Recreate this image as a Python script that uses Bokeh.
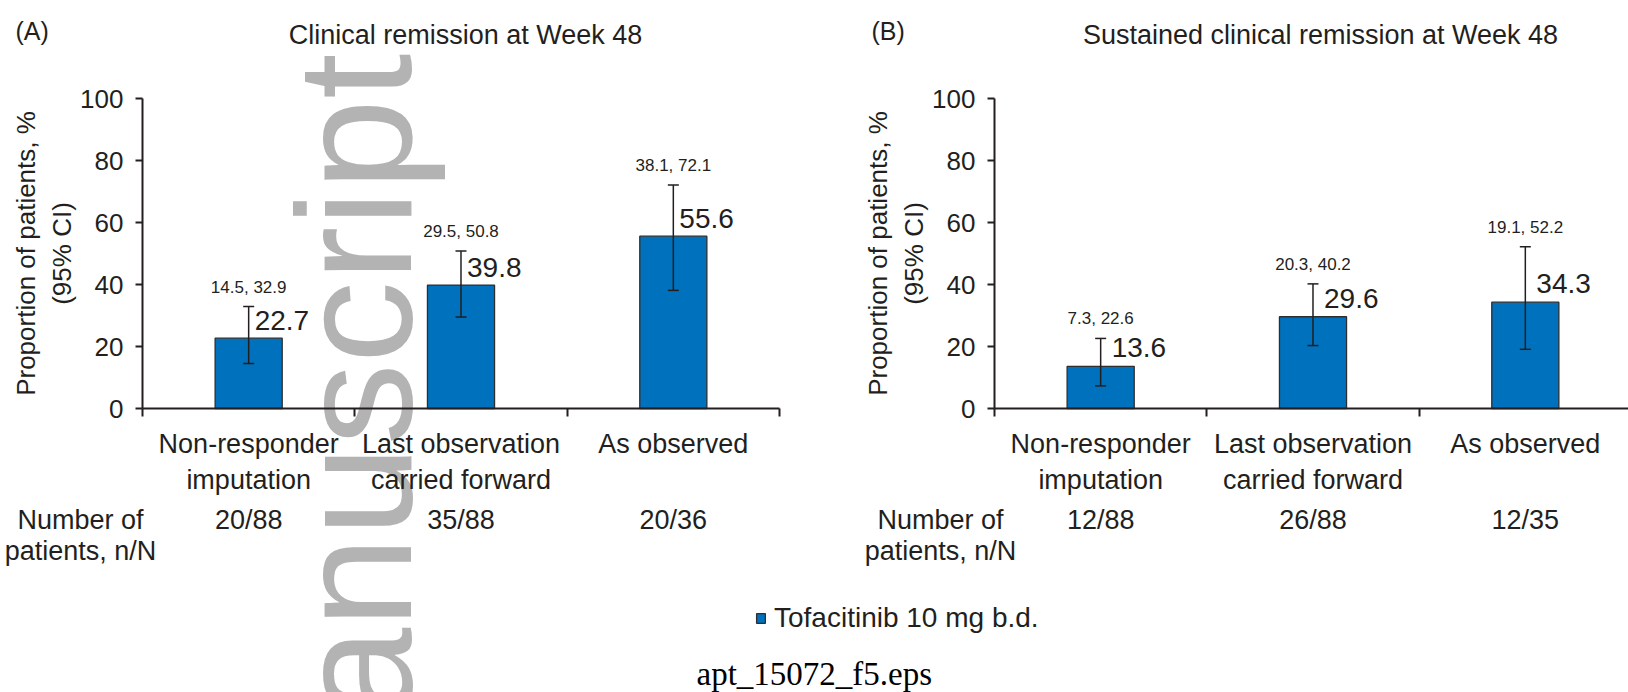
import math
from bokeh.plotting import figure
from bokeh.models import (Range1d, FixedTicker, Label, Whisker, ColumnDataSource,
                          TeeHead, Legend, LegendItem, LinearAxis)
from bokeh.core.properties import value
from bokeh.embed import file_html
from bokeh.resources import INLINE

# ---------------- data ----------------
categories = ["Non-responder\nimputation", "Last observation\ncarried forward", "As observed"]
cat_pos = [0.5, 1.5, 2.5]
y_ticks = [0, 20, 40, 60, 80, 100]

a_title = "Clinical remission at Week 48"
a_values = [22.7, 39.8, 55.6]
a_lower = [14.5, 29.5, 38.1]
a_upper = [32.9, 50.8, 72.1]
a_counts = ["20/88", "35/88", "20/36"]

b_title = "Sustained clinical remission at Week 48"
b_values = [13.6, 29.6, 34.3]
b_lower = [7.3, 20.3, 19.1]
b_upper = [22.6, 40.2, 52.2]
b_counts = ["12/88", "26/88", "12/35"]

series_name = "Tofacitinib 10 mg b.d."

# ---------------- layout / style ----------------
W, H = 1628, 692
FONT = "Liberation Sans"
INK = "#231f20"
BLUE = "#0071bc"
EDGE = "#2e2e2e"
XU = 212.33                 # px per category
YU = 3.1                    # px per percent
A_LEFT, B_LEFT = 142, 994   # page x of each panel's y axis
Y0, Y100 = 408, 98          # page y of 0 % and 100 %
B_END = (W - B_LEFT) / XU   # panel B runs to the page edge

# one frame that covers the whole page; both panels live in it (panel B on an extra x range)
p = figure(width=W, height=H,
           x_range=Range1d(-A_LEFT / XU, (W - A_LEFT) / XU),
           y_range=Range1d(-(H - Y0) / YU, 100 + Y100 / YU),
           output_backend="svg", toolbar_location=None, min_border=0)
p.extra_x_ranges = {"b": Range1d(-B_LEFT / XU, B_END)}
p.outline_line_color = None
p.grid.visible = False
p.background_fill_color = "white"
p.border_fill_color = "white"


def gx(x):  # page x -> default data x
    return (x - A_LEFT) / XU


def gy(y):  # page y -> data y
    return (Y0 - y) / YU


def lab(text, x, y, align="left", size="27px", font=FONT, color=INK, **kw):
    p.add_layout(Label(x=gx(x), y=gy(y), text=text, text_align=align,
                       text_baseline="middle", text_font=font,
                       text_font_size=size, text_color=color, **kw))


# watermark (beneath everything)
lab("anuscript", 354, 53, align="right", size="164px", color="#b3b3b3",
    angle=math.pi / 2, level="underlay")


def style_x(ax):
    ax.ticker = FixedTicker(ticks=cat_pos, minor_ticks=[0, 1, 2, 3])
    ax.major_label_overrides = {pos: c for pos, c in zip(cat_pos, categories)}
    ax.major_tick_out = 0
    ax.major_tick_in = 0
    ax.minor_tick_out = 8
    ax.minor_tick_in = 0
    ax.minor_tick_line_width = 2
    ax.minor_tick_line_color = INK
    ax.axis_line_width = 2
    ax.axis_line_color = INK
    ax.major_label_text_font = FONT
    ax.major_label_text_font_size = "27px"
    ax.major_label_text_color = INK
    ax.major_label_standoff = 12
    ax.fixed_location = 0


def style_y(ax):
    ax.ticker = FixedTicker(ticks=y_ticks)
    ax.bounds = (0, 100)
    ax.minor_tick_out = 0
    ax.minor_tick_in = 0
    ax.major_tick_out = 7
    ax.major_tick_in = 0
    ax.major_tick_line_width = 2
    ax.major_tick_line_color = INK
    ax.axis_line_width = 2
    ax.axis_line_color = INK
    ax.major_label_standoff = 12
    ax.major_label_text_font = FONT
    ax.major_label_text_font_size = "26px"
    ax.major_label_text_color = INK
    ax.axis_label = "Proportion of patients, %\n(95% CI)"
    ax.axis_label_standoff = 0
    ax.axis_label_text_font = FONT
    ax.axis_label_text_font_style = "normal"
    ax.axis_label_text_font_size = "26px"
    ax.axis_label_text_color = INK
    ax.fixed_location = 0


def panel(values, lower, upper, counts, title, tag, rng, left, x_end, val_dx, val_dy,
          title_cx, tag_x, num_cx):
    src = ColumnDataSource(dict(
        x=cat_pos, top=values, lower=lower, upper=upper,
        vlab=[f"{v}" for v in values],
        cilab=[f"{l}, {u}" for l, u in zip(lower, upper)],
    ))
    bars = p.vbar(x="x", top="top", width=0.316, source=src, fill_color=BLUE,
                  line_color=EDGE, line_width=1.3, x_range_name=rng)
    p.add_layout(Whisker(base="x", upper="upper", lower="lower", source=src,
                         dimension="height", line_color=INK, line_width=1.5,
                         upper_head=TeeHead(size=11, line_color=INK, line_width=1.5),
                         lower_head=TeeHead(size=11, line_color=INK, line_width=1.5),
                         level="annotation", x_range_name=rng))
    p.text(x="x", y="upper", text="cilab", source=src, y_offset=-19.5,
           text_align="center", text_baseline="middle", x_range_name=rng,
           text_font=value(FONT), text_font_size="17px", text_color=INK)
    p.text(x="x", y="top", text="vlab", source=src, x_offset=val_dx, y_offset=val_dy,
           text_align="left", text_baseline="middle", x_range_name=rng,
           text_font=value(FONT), text_font_size="28px", text_color=INK)

    if rng == "default":
        xa, ya = p.xaxis[0], p.yaxis[0]
    else:
        xa = LinearAxis(x_range_name=rng)
        ya = LinearAxis(x_range_name=rng)
        p.add_layout(xa, "below")
        p.add_layout(ya, "left")
    style_x(xa)
    xa.bounds = (0, x_end)
    style_y(ya)

    lab(tag, tag_x, 30, "left", "25px")
    lab(title, title_cx, 34, "center", "27px")
    lab("Number of", num_cx, 519, "center")
    lab("patients, n/N", num_cx, 550, "center")
    for pos, cnt in zip(cat_pos, counts):
        lab(cnt, left + pos * XU, 519, "center")
    return bars


bars_a = panel(a_values, a_lower, a_upper, a_counts, a_title, "(A)", "default", A_LEFT, 3.0,
               val_dx=6, val_dy=-17.5, title_cx=465, tag_x=15, num_cx=80)
bars_b = panel(b_values, b_lower, b_upper, b_counts, b_title, "(B)", "b", B_LEFT, B_END,
               val_dx=11, val_dy=-18.5, title_cx=1320, tag_x=871, num_cx=940)

leg = Legend(items=[LegendItem(label=series_name, renderers=[bars_a])],
             location=(755, 58), padding=0, margin=0, spacing=0,
             glyph_width=11, glyph_height=12, label_standoff=8,
             label_text_font=FONT, label_text_font_size="28px", label_text_color=INK,
             border_line_color=None, background_fill_alpha=0)
p.add_layout(leg)

lab("apt_15072_f5.eps", 696, 673, "left", "33px", font="Liberation Serif", color="#000000")

open("out.html", "w").write(file_html(p, INLINE))
